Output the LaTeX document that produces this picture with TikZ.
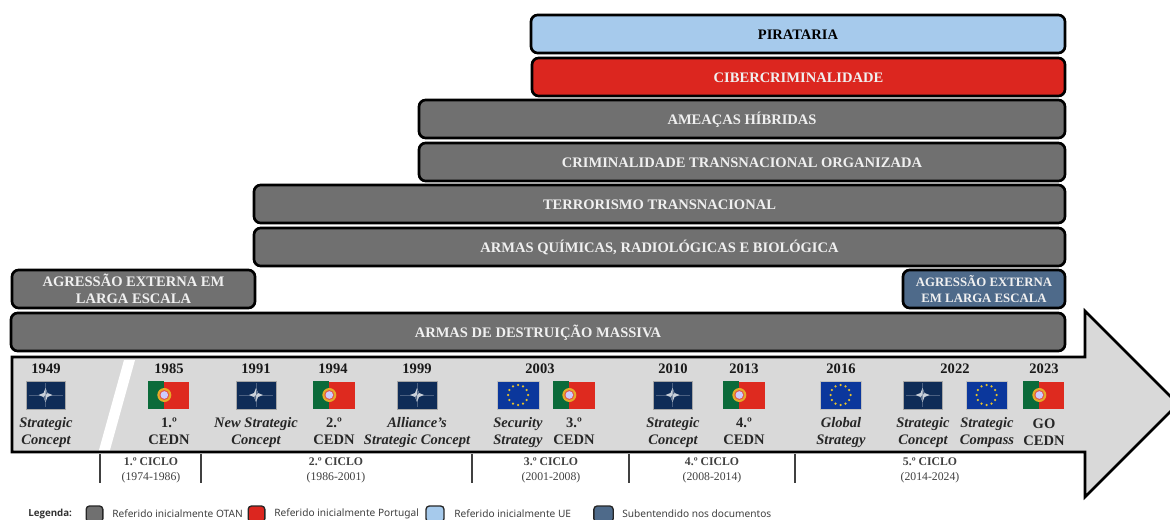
\documentclass[tikz,border=0pt]{standalone}
\usepackage{fontspec}
\setmainfont{Liberation Serif}
\newfontfamily\legfont{Noto Sans}
\newfontfamily\legbold{Open Sans}
\definecolor{barGrey}{HTML}{707070}
\definecolor{barBlue}{HTML}{A6CAEC}
\definecolor{barRed}{HTML}{DC261F}
\definecolor{barSlate}{HTML}{4E6A8A}
\definecolor{arrowGrey}{HTML}{D9D9D9}
\definecolor{natoBlue}{HTML}{0F2C57}
\definecolor{euBlue}{HTML}{0B379C}
\definecolor{euGold}{HTML}{E8C22A}
\definecolor{ptGreen}{HTML}{0B6B3A}
\definecolor{ptRed}{HTML}{DE2A1F}
\definecolor{legText}{HTML}{404040}
\usetikzlibrary{calc}
\newcommand{\rb}[1]{\raisebox{-0.75pt}[7pt][0pt]{#1}}
\newcommand{\smallbar}{\fontsize{9.6}{12}\selectfont}
\tikzset{
  x=0.75pt,y=-0.75pt,
  barbox/.style={draw=black,line width=2pt,rounded corners=5pt,inner sep=0pt,align=center,text=white!94!black,
    font=\fontsize{10.9}{12.4}\selectfont\bfseries},
  yearlabel/.style={inner sep=0pt,font=\fontsize{10.9}{11}\selectfont\bfseries,text=black!90},
  doclabel/.style={inner sep=0pt,align=center,font=\fontsize{10.9}{12.75}\selectfont\bfseries\itshape,text=black!85},
  cedn/.style={inner sep=0pt,align=center,font=\fontsize{10.9}{12.75}\selectfont\bfseries,text=black!85},
  cyc/.style={inner sep=0pt,align=center,font=\fontsize{8.8}{11.4}\selectfont,text=black!75},
  sep/.style={draw=black!75,line width=1.1pt},
  legbox/.style={draw=black!85,line width=1pt,rounded corners=2.5pt,minimum height=12pt,inner sep=0pt},
  legtxt/.style={inner sep=0pt,anchor=west,font=\legfont\fontsize{7.6}{8}\selectfont,text=legText},
}
% name, x1, x2, y1, y2, colour, text
\newcommand{\barbox}[7]{%
  \pgfmathsetmacro{\cxx}{(#2+#3)/2}\pgfmathsetmacro{\cyy}{(#4+#5)/2}%
  \pgfmathsetmacro{\bwd}{(#3-#2)*0.75}\pgfmathsetmacro{\bhg}{(#5-#4)*0.75}%
  \node[barbox,fill=#6,minimum width=\bwd pt,minimum height=\bhg pt] (#1) at (\cxx,\cyy) {#7};}
\newcommand{\natoflag}[3]{% name, x1, x2
  \pgfmathsetmacro{\cxx}{(#2+#3)/2}\pgfmathsetmacro{\bwd}{(#3-#2)*0.75}%
  \node[fill=natoBlue,draw=black!35,line width=.3pt,minimum width=\bwd pt,minimum height=21pt,inner sep=0pt] (#1) at (\cxx,395) {};
  \draw[white,opacity=.25,line width=.25pt] ($(#1.center)+(-17,0)$) -- ($(#1.center)+(17,0)$) ($(#1.center)+(0,-12)$) -- ($(#1.center)+(0,12)$);
  \fill[white!78!natoBlue] ($(#1.center)+(-7,0)$) -- ($(#1.center)+(-2,-2)$) -- ($(#1.center)+(0,-7)$) -- ($(#1.center)+(2,-2)$) -- ($(#1.center)+(7,0)$) -- ($(#1.center)+(2,2)$) -- ($(#1.center)+(0,7)$) -- ($(#1.center)+(-2,2)$) -- cycle;
  \fill[natoBlue!70!white] (#1.center) -- ($(#1.center)+(0,-6)$) -- ($(#1.center)+(2,-2)$) -- cycle;
  \fill[natoBlue!70!white] (#1.center) -- ($(#1.center)+(0,6)$) -- ($(#1.center)+(-2,2)$) -- cycle;
}
\newcommand{\euflag}[3]{%
  \pgfmathsetmacro{\cxx}{(#2+#3)/2}\pgfmathsetmacro{\bwd}{(#3-#2)*0.75}%
  \node[fill=euBlue,draw=black!25,line width=.3pt,minimum width=\bwd pt,minimum height=21pt,inner sep=0pt] (#1) at (\cxx,395) {};
  \foreach \a in {0,30,...,330}{\fill[euGold] ($(#1.center)+(\a:10)$) circle[radius=1.25];}
}
\newcommand{\ptflag}[3]{%
  \pgfmathsetmacro{\cxx}{(#2+#3)/2}\pgfmathsetmacro{\bwd}{(#3-#2)*0.75}%
  \node[fill=ptRed,draw=black!15,line width=.3pt,minimum width=\bwd pt,minimum height=21pt,inner sep=0pt] (#1) at (\cxx,395) {};
  \fill[ptGreen] (#1.north west) rectangle ($(#1.south west)+(16.5,0)$);
  \fill[euGold!85!ptRed] ($(#1.west)+(16.5,0)$) circle[radius=7];
  \fill[ptRed!80!white] ($(#1.west)+(16.5,0)$) circle[radius=5];
  \fill[white!80!blue] ($(#1.west)+(16.5,0)$) circle[radius=3.8];
}
\begin{document}
\begin{tikzpicture}
\useasboundingbox (0,0) rectangle (1170,520);
\clip (0,0) rectangle (1170,520);
\fill[white] (0,0) rectangle (1170,520);
% timeline arrow
\draw[fill=arrowGrey,draw=black,line width=2pt,line join=miter]
  (12,357) -- (1085,357) -- (1085,311) -- (1178,404) -- (1085,497) -- (1085,452) -- (12,452) -- cycle;
\fill[white] (124,360) -- (135,360) -- (110,450) -- (99,450) -- cycle;
% bars
\barbox{pir}{531}{1065}{15}{53}{barBlue}{\textcolor{black}{\rb{PIRATARIA}}}
\barbox{cib}{532}{1065}{58}{96}{barRed}{\rb{CIBERCRIMINALIDADE}}
\barbox{hib}{419}{1065}{100}{138}{barGrey}{\rb{AMEAÇAS HÍBRIDAS}}
\barbox{cto}{419}{1065}{143}{181}{barGrey}{\rb{CRIMINALIDADE TRANSNACIONAL ORGANIZADA}}
\barbox{ter}{254}{1065}{185}{223}{barGrey}{\rb{TERRORISMO TRANSNACIONAL}}
\barbox{qui}{254}{1065}{228}{266}{barGrey}{\rb{ARMAS QUÍMICAS, RADIOLÓGICAS E BIOLÓGICA}}
\barbox{agl}{12}{255}{270}{308}{barGrey}{AGRESSÃO EXTERNA EM\\LARGA ESCALA}
\barbox{agr}{903}{1065}{270}{308}{barSlate}{\smallbar AGRESSÃO EXTERNA\\\smallbar EM LARGA ESCALA}
\barbox{adm}{11}{1065}{313}{351}{barGrey}{\rb{ARMAS DE DESTRUIÇÃO MASSIVA}}
% flags
\natoflag{f49}{26}{65}
\ptflag{f85}{148}{189}
\natoflag{f91}{236}{276}
\ptflag{f94}{313}{355}
\natoflag{f99}{397}{437}
\euflag{f03e}{497}{539}
\ptflag{f03p}{553}{595}
\natoflag{f10}{653}{692}
\ptflag{f13}{723}{765}
\euflag{f16}{820}{861}
\natoflag{f22n}{903}{942}
\euflag{f22e}{966}{1007}
\ptflag{f23}{1023}{1064}
% years
\node[yearlabel] (y49) at (46,368.5) {1949};
\node[yearlabel] (y85) at (169,368.5) {1985};
\node[yearlabel] (y91) at (256,368.5) {1991};
\node[yearlabel] (y94) at (333,368.5) {1994};
\node[yearlabel] (y99) at (417,368.5) {1999};
\node[yearlabel] (y03) at (540,368.5) {2003};
\node[yearlabel] (y10) at (673,368.5) {2010};
\node[yearlabel] (y13) at (744,368.5) {2013};
\node[yearlabel] (y16) at (841,368.5) {2016};
\node[yearlabel] (y22) at (955,368.5) {2022};
\node[yearlabel] (y23) at (1044,368.5) {2023};
% documents
\node[doclabel] (d49) at (46,432.5) {Strategic\\Concept};
\node[cedn] (d85) at (169,431) {1.º\\CEDN};
\node[doclabel] (d91) at (256,432.5) {New Strategic\\Concept};
\node[cedn] (d94) at (334,431) {2.º\\CEDN};
\node[doclabel] (d99) at (417,432.5) {Alliance’s\\Strategic Concept};
\node[doclabel] (d03e) at (518,432.5) {Security\\Strategy};
\node[cedn] (d03p) at (574,431) {3.º\\CEDN};
\node[doclabel] (d10) at (673,432.5) {Strategic\\Concept};
\node[cedn] (d13) at (744,431) {4.º\\CEDN};
\node[doclabel] (d16) at (841,432.5) {Global\\Strategy};
\node[doclabel] (d22n) at (923,432.5) {Strategic\\Concept};
\node[doclabel] (d22e) at (987,432.5) {Strategic\\Compass};
\node[cedn] (d23) at (1044,432) {GO\\CEDN};
% cycles
\coordinate (s1a) at (100,454); \coordinate (s1b) at (100,483);
\coordinate (s2a) at (201,454); \coordinate (s2b) at (201,483);
\coordinate (s3a) at (472,454); \coordinate (s3b) at (472,483);
\coordinate (s4a) at (629,454); \coordinate (s4b) at (629,483);
\coordinate (s5a) at (795,454); \coordinate (s5b) at (795,483);
\draw[sep] (s1a) -- (s1b);
\draw[sep] (s2a) -- (s2b);
\draw[sep] (s3a) -- (s3b);
\draw[sep] (s4a) -- (s4b);
\draw[sep] (s5a) -- (s5b);
\node[cyc] (c1) at (151,470.5) {\textbf{1.º CICLO}\\(1974-1986)};
\node[cyc] (c2) at (336,470.5) {\textbf{2.º CICLO}\\(1986-2001)};
\node[cyc] (c3) at (551,470.5) {\textbf{3.º CICLO}\\(2001-2008)};
\node[cyc] (c4) at (712,470.5) {\textbf{4.º CICLO}\\(2008-2014)};
\node[cyc] (c5) at (930,470.5) {\textbf{5.º CICLO}\\(2014-2024)};
% legend
\node[legtxt,font=\legbold\fontsize{7.3}{8}\selectfont\bfseries,text=black!80] (lt0) at (28,514) {Legenda:};
\node[legbox,fill=barGrey,minimum width=12.5pt] (l1) at (94.5,514) {};
\node[legtxt] (lt1) at (112,514) {Referido inicialmente OTAN};
\node[legbox,fill=barRed,minimum width=12.5pt] (l2) at (256.5,514) {};
\node[legtxt] (lt2) at (274,514) {Referido inicialmente Portugal};
\node[legbox,fill=barBlue,minimum width=13.5pt] (l3) at (435,514) {};
\node[legtxt] (lt3) at (454,514) {Referido inicialmente UE};
\node[legbox,fill=barSlate,minimum width=14.5pt] (l4) at (603.5,514) {};
\node[legtxt] (lt4) at (622,514) {Subentendido nos documentos};
\end{tikzpicture}
\end{document}
